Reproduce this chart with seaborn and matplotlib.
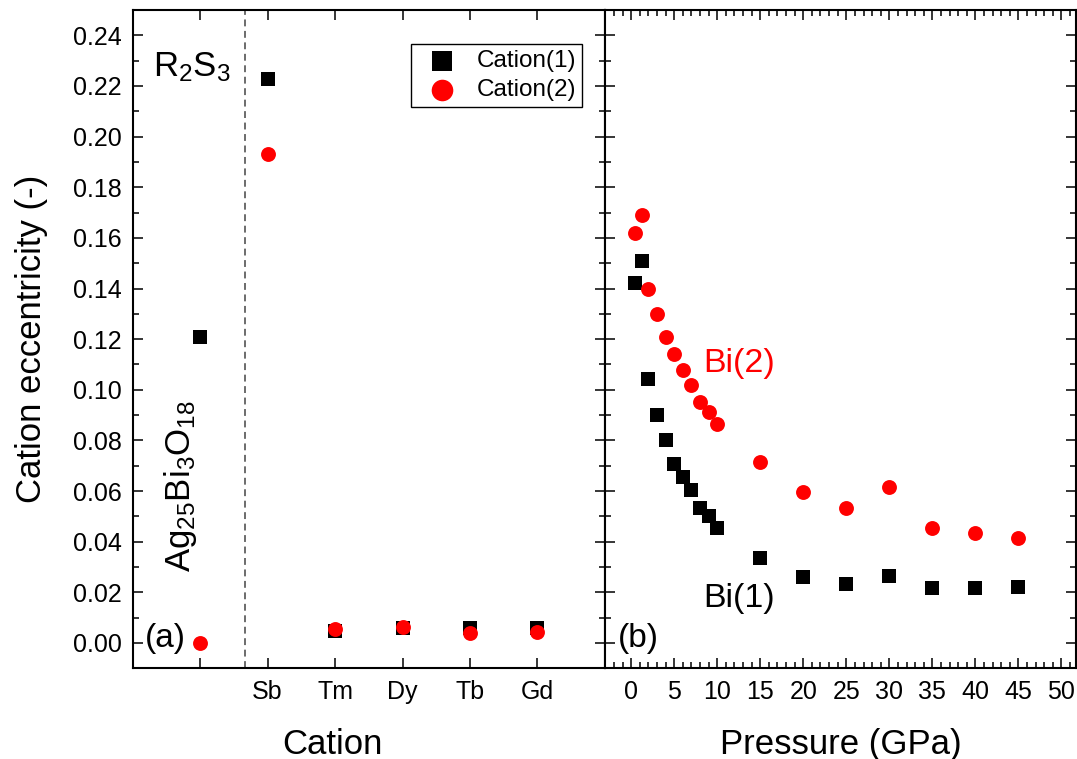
import numpy as np
import matplotlib
matplotlib.use("Agg")
import matplotlib.pyplot as plt
from matplotlib.ticker import MultipleLocator, FormatStrFormatter
import seaborn as sns

# panel (a): eccentricity per cation
cations = ["Ag25Bi3O18", "Sb", "Tm", "Dy", "Tb", "Gd"]
cation1 = [0.121, 0.2226, 0.0046, 0.0060, 0.0059, 0.0060]
cation2 = [0.000, 0.1930, 0.0055, 0.0062, 0.0039, 0.0042]

# panel (b): Ag25Bi3O18 under pressure
pressure = [0.4, 1.2, 2, 3, 4, 5, 6, 7, 8, 9, 10, 15, 20, 25, 30, 35, 40, 45]
bi1 = [0.142, 0.151, 0.1044, 0.0902, 0.0801, 0.0705, 0.0656, 0.0605, 0.0532,
       0.0502, 0.0454, 0.0335, 0.0261, 0.0232, 0.0265, 0.0217, 0.0219, 0.0221]
bi2 = [0.162, 0.169, 0.140, 0.130, 0.121, 0.114, 0.108, 0.102, 0.0953,
       0.0911, 0.0865, 0.0713, 0.0595, 0.0532, 0.0616, 0.0454, 0.0436, 0.0416]

sns.set_style("ticks")
plt.rcParams["font.family"] = ["Liberation Sans", "DejaVu Sans"]
plt.rcParams["mathtext.default"] = "regular"
for key in ("text.color", "axes.labelcolor", "xtick.color", "ytick.color",
            "axes.edgecolor"):
    plt.rcParams[key] = "black"

fig = plt.figure(figsize=(10.77, 7.59), dpi=100)
ax1 = fig.add_axes([0.1232, 0.1195, 0.4385, 0.8673])
ax2 = fig.add_axes([0.5617, 0.1195, 0.4378, 0.8673], sharey=ax1)

pos = np.arange(len(cations))
sns.scatterplot(x=pos, y=cation1, marker="s", s=95, color="black", linewidth=0,
                label="Cation(1)", ax=ax1)
sns.scatterplot(x=pos, y=cation2, marker="o", s=115, color="red", linewidth=0,
                label="Cation(2)", ax=ax1)

sns.scatterplot(x=pressure, y=bi1, marker="s", s=95, color="black", linewidth=0,
                legend=False, ax=ax2)
sns.scatterplot(x=pressure, y=bi2, marker="o", s=115, color="red", linewidth=0,
                legend=False, ax=ax2)

# axes ranges and ticks
ax1.set_ylim(-0.01, 0.25)
ax1.set_xlim(-1, 6)
ax2.set_xlim(-3.05, 51.75)
ax1.yaxis.set_major_locator(MultipleLocator(0.02))
ax1.yaxis.set_minor_locator(MultipleLocator(0.01))
ax1.yaxis.set_major_formatter(FormatStrFormatter("%.2f"))
ax1.set_xticks(pos)
ax1.set_xticklabels([""] + cations[1:])
ax2.xaxis.set_major_locator(MultipleLocator(5))
ax2.xaxis.set_minor_locator(MultipleLocator(1))

for ax in (ax1, ax2):
    for sp in ax.spines.values():
        sp.set_linewidth(1.5)
        sp.set_color("black")
    ax.tick_params(which="both", direction="in", top=True, right=True,
                   width=1.1, colors="black", labelsize=18)
    ax.tick_params(which="major", length=7.5)
    ax.tick_params(which="minor", length=4)
    ax.tick_params(axis="x", pad=8.5)
    ax.tick_params(axis="y", pad=8)
ax2.tick_params(labelleft=False)

ax1.axvline(0.66, color="#444444", linestyle=(0, (4.5, 3)), linewidth=1.1)

# labels
ax1.set_ylabel("Cation eccentricity (-)", fontsize=25)
ax1.yaxis.set_label_coords(-0.18, 0.5)
ax1.set_xlabel("Cation", fontsize=25, va="top")
ax1.xaxis.set_label_coords(0.422, -0.09)
ax2.set_xlabel("Pressure (GPa)", fontsize=25, va="top")
ax2.xaxis.set_label_coords(0.5, -0.09)
ax2.set_ylabel("")

# annotations
ax1.text(-0.70, 0.224, r"R$_2$S$_3$", fontsize=25, va="baseline", ha="left")
ax1.text(-0.15, 0.028, r"Ag$_{25}$Bi$_3$O$_{18}$", fontsize=25, rotation=90,
         rotation_mode="anchor", va="baseline", ha="left")
ax1.text(-0.82, -0.0015, "(a)", fontsize=24, va="baseline", ha="left")
ax2.text(-1.5, -0.0016, "(b)", fontsize=24, va="baseline", ha="left")
ax2.text(8.36, 0.107, "Bi(2)", fontsize=24.5, color="red", va="baseline")
ax2.text(8.36, 0.0144, "Bi(1)", fontsize=24.5, color="black", va="baseline")

leg = ax1.legend(loc="upper right", bbox_to_anchor=(0.9513, 0.9484),
                 borderaxespad=0, fancybox=False, edgecolor="black",
                 fontsize=17.5, markerscale=1.45, handlelength=2.1,
                 handletextpad=0.35, borderpad=0.25, labelspacing=0.3)
leg.get_frame().set_linewidth(1.0)
leg.get_frame().set_alpha(1)

fig.savefig("out.png", dpi=100)
